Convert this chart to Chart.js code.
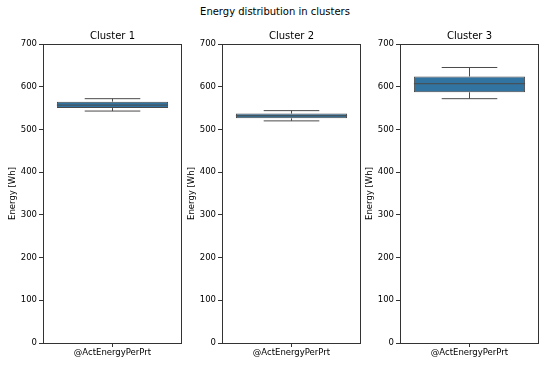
<!DOCTYPE html>
<html>
<head>
<meta charset="utf-8">
<script src="https://cdn.jsdelivr.net/npm/chart.js@4"></script>
<style>
  body { margin: 0; background: #fff; }
  #wrap { position: relative; width: 550px; height: 368px; overflow: hidden; }
  #title { position: absolute; top: 6px; left: 0; width: 550px; text-align: center;
           font: 10px 'DejaVu Sans'; line-height: 12px; color: #000; }
  canvas { position: absolute; top: 0; }
</style>
</head>
<body>
<div id="wrap">
  <div id="title">Energy distribution in clusters</div>
  <canvas id="c0" width="186" height="368" style="left:0px"></canvas>
  <canvas id="c1" width="186" height="368" style="left:179px"></canvas>
  <canvas id="c2" width="186" height="368" style="left:357px"></canvas>
</div>
<script>
// box plot summary per cluster
const clusters = ['Cluster 1', 'Cluster 2', 'Cluster 3'];
const categories = ['@ActEnergyPerPrt'];
const mins    = [543, 520, 572];
const q1s     = [550, 526, 587];
const medians = [557, 532, 607];
const q3s     = [565, 537, 624];
const maxs    = [572, 544, 645];

Chart.defaults.font.family = 'DejaVu Sans';
Chart.defaults.color = '#000';

const lineColor = '#4a4a4a';

// whiskers, caps, median and the frame round the plot area
const boxExtras = {
  id: 'boxExtras',
  afterDatasetsDraw(chart) {
    const i = chart.options.plugins.boxExtras.index;
    const y = chart.scales.y;
    const ctx = chart.ctx;
    const bar = chart.getDatasetMeta(0).data[0].getProps(['x', 'width'], true);
    const cx = bar.x;
    const half = bar.width / 2;
    const cap = bar.width / 4;
    const yMin = y.getPixelForValue(mins[i]);
    const yQ1 = y.getPixelForValue(q1s[i]);
    const yMed = y.getPixelForValue(medians[i]);
    const yQ3 = y.getPixelForValue(q3s[i]);
    const yMax = y.getPixelForValue(maxs[i]);

    ctx.save();
    ctx.strokeStyle = lineColor;
    ctx.lineWidth = 1;
    ctx.beginPath();
    ctx.moveTo(cx, yQ3); ctx.lineTo(cx, yMax);
    ctx.moveTo(cx, yQ1); ctx.lineTo(cx, yMin);
    ctx.moveTo(cx - cap, yMax); ctx.lineTo(cx + cap, yMax);
    ctx.moveTo(cx - cap, yMin); ctx.lineTo(cx + cap, yMin);
    ctx.moveTo(cx - half, yMed); ctx.lineTo(cx + half, yMed);
    ctx.stroke();

    const a = chart.chartArea;
    ctx.strokeStyle = '#333';
    ctx.strokeRect(a.left + 0.5, a.top + 0.5, a.right - a.left - 1, a.bottom - a.top);
    ctx.restore();
  }
};

function makePanel(i) {
  const ctx = document.getElementById('c' + i).getContext('2d');
  new Chart(ctx, {
    type: 'bar',
    data: {
      labels: categories,
      datasets: [{
        data: [[q1s[i], q3s[i]]],
        backgroundColor: '#3274a1',
        borderColor: lineColor,
        borderWidth: 1,
        borderSkipped: false,
        barPercentage: 0.8,
        categoryPercentage: 1
      }]
    },
    options: {
      responsive: false,
      animation: false,
      layout: { padding: { left: 0, right: 4, top: 0, bottom: 0 } },
      plugins: {
        legend: { display: false },
        tooltip: { enabled: false },
        title: {
          display: true,
          fullSize: false,
          text: clusters[i],
          font: { size: 10, weight: 'normal' },
          padding: { top: 30, bottom: 2 }
        },
        boxExtras: { index: i }
      },
      scales: {
        x: {
          grid: { display: true, drawOnChartArea: false, offset: false, tickLength: 4, color: '#333' },
          border: { display: false },
          ticks: { font: { size: 8.5 }, padding: 1, maxRotation: 0 },
          afterFit: scale => { scale.height = 25; }
        },
        y: {
          min: 0,
          max: 700,
          grid: { display: true, drawOnChartArea: false, tickLength: 4, color: '#333' },
          border: { display: false },
          ticks: { stepSize: 100, font: { size: 8.5 }, padding: 2 },
          title: {
            display: true,
            text: 'Energy [Wh]',
            font: { size: 8.5 },
            padding: { top: 8, bottom: 0 }
          },
          afterFit: scale => { scale.width = 43; }
        }
      }
    },
    plugins: [boxExtras]
  });
}

clusters.forEach((c, i) => makePanel(i));
</script>
</body>
</html>
